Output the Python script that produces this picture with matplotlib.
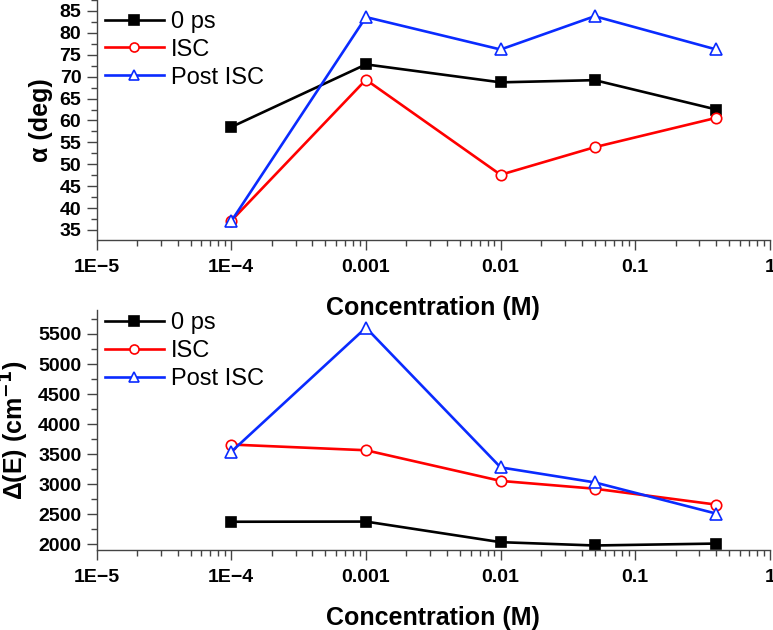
import matplotlib
matplotlib.use("Agg")
import matplotlib.pyplot as plt
from matplotlib.ticker import LogLocator, FixedLocator, MultipleLocator, FixedFormatter

plt.rcParams['font.family'] = ['Liberation Sans', 'DejaVu Sans']

# concentrations (M)
conc = [1e-4, 1e-3, 1e-2, 0.05, 0.4]

# angle alpha (deg)
alpha_0ps = [58.5, 72.8, 68.7, 69.2, 62.5]
alpha_isc = [37.1, 69.3, 47.6, 53.9, 60.6]
alpha_post = [37.0, 83.6, 76.2, 83.8, 76.2]

# energy gap Delta(E) (cm^-1)
dE_0ps = [2375, 2378, 2035, 1980, 2012]
dE_isc = [3660, 3565, 3055, 2925, 2660]
dE_post = [3540, 5605, 3280, 3030, 2510]

labels = ["0 ps", "ISC", "Post ISC"]
xtick_vals = [1e-5, 1e-4, 1e-3, 1e-2, 1e-1, 1]
xtick_labels = ["1E\u22125", "1E\u22124", "0.001", "0.01", "0.1", "1"]

fig = plt.figure(figsize=(7.73, 6.3), dpi=100)
ax1 = fig.add_axes([0.125, 0.619, 0.871, 0.381])
ax2 = fig.add_axes([0.125, 0.127, 0.871, 0.381])

styles = [
    dict(color="black", marker="s", mfc="black", mec="black", ms=7.5),
    dict(color="#ff0000", marker="o", mfc="white", mec="#ff0000", ms=7.5),
    dict(color="#0a2bff", marker="^", mfc="white", mec="#0a2bff", ms=8.5),
]


def setup(ax, series, ylabel, ylim, major, minor, leg_top):
    ax.set_facecolor("none")
    for vals, lab, st in zip(series, labels, styles):
        ax.plot(conc, vals, label=lab, lw=1.9, mew=1.2, clip_on=False, **st)
    ax.set_xscale("log")
    ax.set_xlim(1e-5, 1)
    ax.set_ylim(*ylim)
    ax.xaxis.set_major_locator(FixedLocator(xtick_vals))
    ax.xaxis.set_major_formatter(FixedFormatter(xtick_labels))
    ax.xaxis.set_minor_locator(LogLocator(base=10, subs=range(2, 10), numticks=20))
    ax.yaxis.set_major_locator(MultipleLocator(major))
    ax.yaxis.set_minor_locator(MultipleLocator(minor))
    for s in ["top", "right"]:
        ax.spines[s].set_visible(False)
    for s in ["left", "bottom"]:
        ax.spines[s].set_color("#444444")
        ax.spines[s].set_linewidth(1.0)
    ax.tick_params(which="major", length=7, width=1, color="#444444",
                   labelsize=14)
    ax.tick_params(which="minor", length=4, width=1, color="#444444")
    ax.tick_params(axis="x", pad=7)
    ax.tick_params(axis="y", pad=4)
    for t in ax.get_xticklabels() + ax.get_yticklabels():
        t.set_fontweight("bold")
    ax.set_xlabel("Concentration (M)", fontsize=18, fontweight="bold", labelpad=14)
    ax.set_ylabel(ylabel, fontsize=18, fontweight="bold", labelpad=5)
    leg = ax.legend(loc="upper left", bbox_to_anchor=(0.012, leg_top), frameon=False,
                    fontsize=17, handlelength=2.5, handletextpad=0.3,
                    labelspacing=0.25, borderaxespad=0, borderpad=0)
    for h in leg.legend_handles:
        h.set_markersize(6.5)


setup(ax1, [alpha_0ps, alpha_isc, alpha_post], "\u03b1 (deg)", (32.7, 87.5), 5, 2.5, 0.955)
setup(ax2, [dE_0ps, dE_isc, dE_post], "\u0394(E) (cm$^{\\mathbf{-1}}$)", (1905, 5900), 500, 250, 0.99)

fig.savefig("out.png", dpi=100)
